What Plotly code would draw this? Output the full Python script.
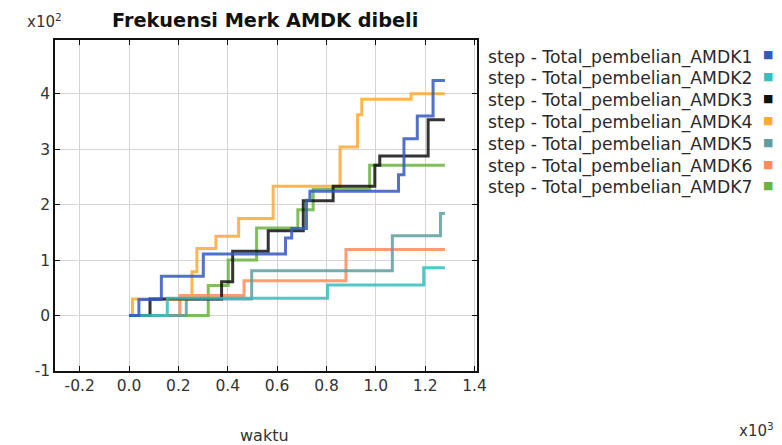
import plotly.graph_objects as go

# ---- data (x in time steps, y in counts) ----
names = ["step - Total_pembelian_AMDK1", "step - Total_pembelian_AMDK2",
         "step - Total_pembelian_AMDK3", "step - Total_pembelian_AMDK4",
         "step - Total_pembelian_AMDK5", "step - Total_pembelian_AMDK6",
         "step - Total_pembelian_AMDK7"]
colors = ["#3559c2", "#36bdbd", "#111111", "#ffaa33", "#5f9ea0", "#ff8c5a", "#6ab43e"]

x1 = [0, 40, 131, 301, 634, 659, 719, 733, 1092, 1114, 1168, 1232, 1280]
y1 = [0, 29, 71, 111, 140, 157, 208, 224, 254, 319, 360, 424, 424]
x2 = [0, 155, 804, 1194, 1280]
y2 = [0, 31, 55, 86, 86]
x3 = [0, 85, 375, 420, 564, 706, 827, 996, 1016, 1212, 1280]
y3 = [0, 30, 61, 116, 153, 207, 233, 271, 288, 353, 353]
x4 = [0, 14, 255, 275, 352, 444, 584, 855, 926, 943, 1143, 1280]
y4 = [0, 30, 79, 121, 143, 175, 233, 304, 362, 390, 400, 400]
x5 = [0, 232, 497, 1067, 1262, 1280]
y5 = [0, 30, 81, 144, 184, 184]
x6 = [0, 206, 466, 879, 1280]
y6 = [0, 36, 63, 119, 119]
x7 = [0, 321, 402, 517, 684, 746, 975, 1280]
y7 = [0, 54, 100, 158, 191, 228, 271, 271]

xs = [x1, x2, x3, x4, x5, x6, x7]
ys = [y1, y2, y3, y4, y5, y6, y7]

xtick_vals = [-200, 0, 200, 400, 600, 800, 1000, 1200, 1400]
xtick_text = ["-0.2", "0.0", "0.2", "0.4", "0.6", "0.8", "1.0", "1.2", "1.4"]
ytick_vals = [-100, 0, 100, 200, 300, 400]
ytick_text = ["-1", "0", "1", "2", "3", "4"]

title = "Frekuensi Merk AMDK dibeli"
x_title = "waktu"

fig = go.Figure()
for i in reversed(range(len(names))):
    fig.add_trace(go.Scatter(
        x=xs[i], y=ys[i], mode="lines", name=names[i],
        line=dict(color=colors[i], width=3, shape="hv"),
        opacity=0.85, showlegend=False))

FONT = "DejaVu Sans, Verdana, sans-serif"
tick_font = dict(family=FONT, size=15.5, color="#333333")

fig.update_xaxes(range=[-300, 1410], tickvals=xtick_vals, ticktext=xtick_text,
                 showgrid=True, gridcolor="#d4d4d4", gridwidth=1, zeroline=False,
                 showline=True, linecolor="#111111", linewidth=1.5, mirror="ticks",
                 ticks="inside", ticklen=5, tickcolor="#111111", tickfont=tick_font)
fig.update_yaxes(range=[-100, 497], tickvals=ytick_vals, ticktext=ytick_text,
                 showgrid=True, gridcolor="#d4d4d4", gridwidth=1, zeroline=False,
                 showline=True, linecolor="#111111", linewidth=1.5, mirror="ticks",
                 ticks="inside", ticklen=5, tickcolor="#111111", tickfont=tick_font)

# plot area in figure px: x 47..469, y 32..363
L, R, T, B = 47, 469, 32, 363
def px(fx):
    return (fx - L) / (R - L)
def py(fy):
    return (B - fy) / (B - T)

annotations = [
    dict(text="<b>" + title + "</b>", x=px(256.5), y=py(12), xref="paper", yref="paper",
         xanchor="center", yanchor="middle", showarrow=False,
         font=dict(family=FONT, size=19.3, color="#111111")),
    dict(text="x10<sup>2</sup>", x=px(36), y=py(13), xref="paper", yref="paper",
         xanchor="center", yanchor="middle", showarrow=False,
         font=dict(family=FONT, size=15, color="#333333")),
    dict(text=x_title, x=px(256.5), y=py(427), xref="paper", yref="paper",
         xanchor="center", yanchor="middle", showarrow=False,
         font=dict(family=FONT, size=16, color="#333333")),
    dict(text="x10<sup>3</sup>", x=px(768), y=py(422), xref="paper", yref="paper",
         xanchor="right", yanchor="middle", showarrow=False,
         font=dict(family=FONT, size=15, color="#333333")),
]
for i, nm in enumerate(names):
    yc = py(49 + 21.8 * i)
    annotations.append(dict(
        text=nm, x=px(478), y=yc, xref="paper", yref="paper",
        xanchor="left", yanchor="middle", showarrow=False,
        font=dict(family=FONT, size=17.2, color="#2a2a2a")))
    annotations.append(dict(
        text="■", x=px(760), y=py(47 + 21.8 * i), xref="paper", yref="paper",
        xanchor="center", yanchor="middle", showarrow=False,
        font=dict(family=FONT, size=11, color=colors[i])))

fig.update_layout(width=774, height=437, margin=dict(l=L, r=774 - R, t=T, b=437 - B),
                  paper_bgcolor="white", plot_bgcolor="white",
                  annotations=annotations, showlegend=False)

fig.write_html("out.html")
